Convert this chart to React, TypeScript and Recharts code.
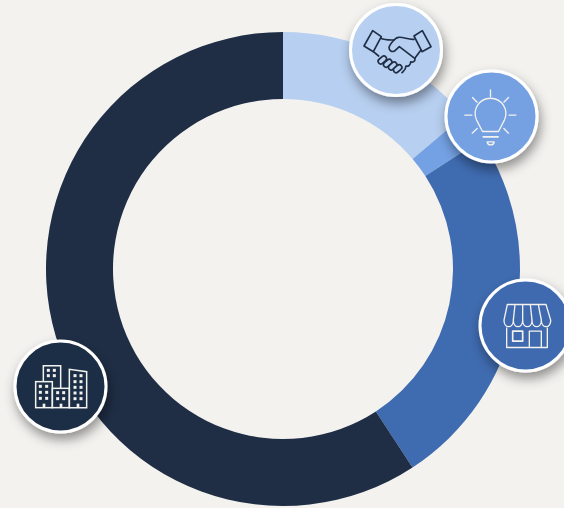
import { PieChart, Pie, Cell } from 'recharts';

const segments = ['Partners', 'Ideas', 'Retail', 'Corporate'];
const shares = [13.8, 2, 25, 59.2];
const colors = ['#b7cff0', '#74a1e3', '#3f6bb0', '#1f2e45'];
const data = segments.map((name, i) => ({ name, value: shares[i] }));

const BG = '#f3f2ef';
const CX = 283;
const CY = 269;
const ICON_SCALE = 1 / 3;

// badge centres relative to the donut centre
const badgeOffsets = [
  [113, -219],
  [208.5, -152.5],
  [242.5, 56.5],
  [-222.5, 117.5],
];

function Handshake() {
  const fingers = [
    [127, 180],
    [143, 190],
    [158, 198],
    [173, 206],
  ];
  return (
    <g transform="translate(-168,-150)" fill="none" stroke="#1f2e45" strokeWidth={5} strokeLinejoin="round" strokeLinecap="round">
      <path d="M98,92 L124,110 L100,155 L72,138 Z" />
      <path d="M247,92 L273,140 L246,155 L222,108 Z" />
      <path d="M122,115 C135,121 148,120 162,120" />
      <path d="M222,118 C205,120 190,110 175,112 C165,113 150,132 147,142 C147,152 155,158 165,152 L178,140 L225,176 C226,184 218,188 212,186" />
      <path d="M243,150 L225,174" />
      <path d="M212,186 C212,196 204,200 198,198 C198,208 192,212 186,218" />
      <path d="M100,155 L116,168" />
      {fingers.map((f, i) => (
        <rect
          key={i}
          x={f[0] - 8}
          y={f[1] - 14}
          width={16}
          height={28}
          rx={8}
          fill={colors[0]}
          transform={`rotate(50 ${f[0]} ${f[1]})`}
        />
      ))}
    </g>
  );
}

function Bulb() {
  const rays = [
    [452, 270, 452, 290],
    [398, 293, 412, 307],
    [506, 293, 492, 307],
    [375, 346, 396, 346],
    [508, 346, 528, 346],
    [397, 400, 412, 386],
    [506, 400, 492, 386],
  ];
  return (
    <g transform="translate(-455,-350)" fill="none" stroke="#f3f2ef" strokeWidth={4} strokeLinecap="round" strokeLinejoin="round">
      <path d="M428,395 L410,360 A46,46 0 1 1 494,360 L476,395 Z" />
      <path d="M430,411 L475,411" strokeWidth={5} />
      <path d="M442,426 L463,426 C462,438 443,438 442,426 Z" />
      {rays.map((r, i) => (
        <line key={i} x1={r[0]} y1={r[1]} x2={r[2]} y2={r[3]} />
      ))}
    </g>
  );
}

function Store() {
  const tops = [112, 135, 158, 181, 205, 228];
  const bottoms = [102, 130, 158, 186, 214, 242];
  return (
    <g transform="translate(-166.5,-166)" fill="none" stroke="#f3f2ef" strokeWidth={4} strokeLinejoin="round">
      <path d="M112,103 L228,103 L242,150 C243,176 214,176 214,150 C214,176 186,176 186,150 C186,176 158,176 158,150 C158,176 130,176 130,150 C130,176 102,176 102,150 Z" />
      {tops.slice(1, 5).map((t, i) => (
        <line key={i} x1={t} y1={103} x2={bottoms[i + 1]} y2={150} />
      ))}
      <path d="M110,172 L110,232 L232,232 L232,172" />
      <rect x={128} y={183} width={30} height={30} strokeWidth={5} />
      <path d="M178,232 L178,183 L214,183 L214,232" />
    </g>
  );
}

function Buildings() {
  const windows = [
    [130, 106], [148, 106], [130, 122], [148, 122],
    [106, 154], [125, 154], [106, 172], [125, 172], [106, 190], [125, 190],
    [158, 173], [176, 173], [158, 191], [176, 191],
    [210, 122], [228, 122], [210, 140], [228, 140], [210, 157], [228, 157], [210, 174], [228, 174], [210, 191], [228, 191],
  ];
  return (
    <g transform="translate(-166.5,-154.5)">
      <g fill="none" stroke="#f3f2ef" strokeWidth={4.5}>
        <path d="M115,140 L115,92 L167,92 L167,160" />
        <rect x={92} y={140} width={50} height={78} />
        <rect x={142} y={160} width={51} height={58} />
        <path d="M193,218 L193,103 L245,110 L245,218 Z" />
      </g>
      {windows.map((w, i) => (
        <rect key={i} x={w[0] - 4.5} y={w[1] - 4.5} width={9} height={9} fill="#f3f2ef" />
      ))}
      <rect x={113} y={206} width={8} height={12} fill="#f3f2ef" />
      <rect x={164} y={206} width={8} height={12} fill="#f3f2ef" />
      <rect x={215} y={206} width={8} height={12} fill="#f3f2ef" />
    </g>
  );
}

const icons = [Handshake, Bulb, Store, Buildings];

function renderBadge(props: any) {
  const { index } = props;
  const Icon = icons[index];
  const x = CX + badgeOffsets[index][0];
  const y = CY + badgeOffsets[index][1];
  return (
    <g key={index} transform={`translate(${x},${y})`}>
      <circle r={45.5} fill={colors[index]} stroke="#ffffff" strokeWidth={3} filter="url(#badgeShadow)" />
      <g transform={`scale(${ICON_SCALE})`}>
        <Icon />
      </g>
    </g>
  );
}

export default function App() {
  return (
    <div style={{ position: 'absolute', left: 0, top: 0, width: 564, height: 508, background: BG, overflow: 'hidden' }}>
      <PieChart width={564} height={508} margin={{ top: 0, right: 0, bottom: 0, left: 0 }}>
        <defs>
          <filter id="badgeShadow" x="-30%" y="-30%" width="170%" height="170%">
            <feDropShadow dx={2} dy={6} stdDeviation={6} floodColor="#000000" floodOpacity={0.42} />
          </filter>
        </defs>
        <Pie
          data={data}
          dataKey="value"
          nameKey="name"
          cx={CX}
          cy={CY}
          innerRadius={170}
          outerRadius={237}
          startAngle={90}
          endAngle={-270}
          stroke="none"
          label={renderBadge}
          labelLine={false}
          isAnimationActive={false}
        >
          {data.map((d, i) => (
            <Cell key={d.name} fill={colors[i]} />
          ))}
        </Pie>
      </PieChart>
    </div>
  );
}
